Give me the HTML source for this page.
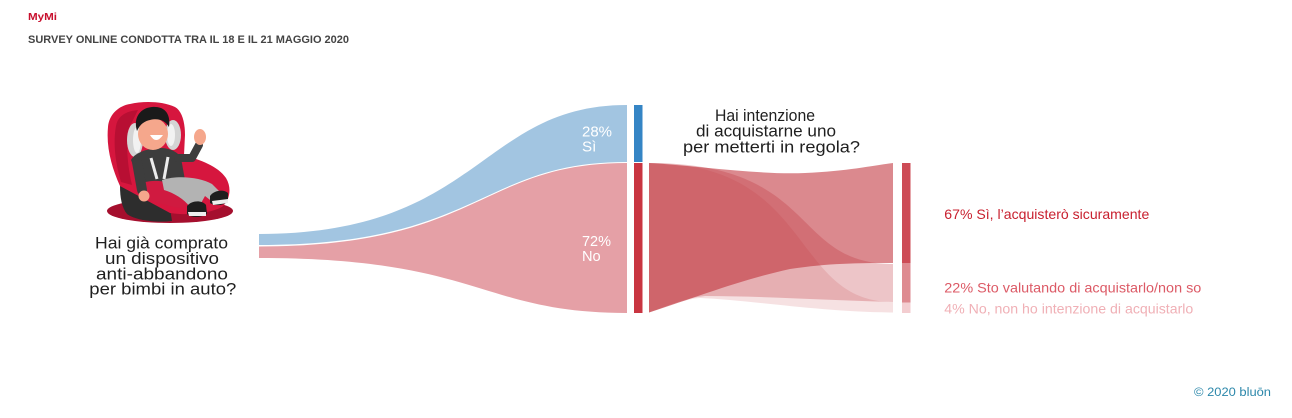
<!DOCTYPE html>
<html><head><meta charset="utf-8"><style>
html,body{margin:0;padding:0;background:#fff;}
svg{display:block;}
text{font-family:"Liberation Sans",sans-serif;}
</style></head><body>
<svg width="1292" height="418" viewBox="0 0 1292 418" xmlns="http://www.w3.org/2000/svg">
<rect width="1292" height="418" fill="#fff"/>
<!-- header -->
<text x="28" y="20" font-size="10" font-weight="bold" fill="#c8102e" textLength="29" lengthAdjust="spacingAndGlyphs">MyMi</text>
<text x="28" y="43" font-size="11" font-weight="bold" fill="#444444" textLength="321" lengthAdjust="spacingAndGlyphs">SURVEY ONLINE CONDOTTA TRA IL 18 E IL 21 MAGGIO 2020</text>

<!-- car seat illustration -->
<g>
<ellipse cx="170" cy="211" rx="63" ry="12" fill="#a50f2e"/>
<path d="M120,186 L168,196 L172,221 C155,223 135,220 127,214 C122,208 120,198 120,186 Z" fill="#2d2d2d"/>
<path d="M120,186 C112,168 106,148 108,127 C109,115 118,106 130,104 C143,101 162,101 175,107 C182,111 185,122 185,135 L184,155 C200,160 218,166 226,178 C232,188 230,200 222,207 C210,213 190,216 170,213 L120,186 Z" fill="#d6163e"/>
<path d="M121,182 C115,162 113,142 116,126 C118,115 127,111 138,110 L128,130 C126,150 128,168 132,185 Z" fill="#b80f33"/>
<ellipse cx="135" cy="140" rx="8" ry="17" fill="#d4d4d4"/>
<ellipse cx="137" cy="140" rx="4" ry="13" fill="#f2f2f2"/>
<ellipse cx="173" cy="135" rx="8" ry="15" fill="#d4d4d4"/>
<ellipse cx="171" cy="135" rx="4" ry="11" fill="#f2f2f2"/>
<path d="M131,160 C135,152 150,148 160,148 C170,148 178,152 181,158 L185,180 C175,186 150,186 140,183 Z" fill="#3d3d3d"/>
<line x1="151" y1="158" x2="157" y2="179" stroke="#ececec" stroke-width="3"/>
<line x1="168" y1="157" x2="164" y2="179" stroke="#ececec" stroke-width="3"/>
<path d="M178,158 L192,158 L199,145" fill="none" stroke="#3d3d3d" stroke-width="8" stroke-linecap="round" stroke-linejoin="round"/>
<ellipse cx="200" cy="137" rx="6" ry="8" fill="#f5a78c"/>
<path d="M138,185 C150,178 170,180 185,190 C190,198 188,206 180,208 C165,206 150,200 140,196 Z" fill="#d01a40"/>
<path d="M162,180 C177,175 200,177 212,184 L224,196 L214,203 L205,196 L200,205 L190,207 C184,199 174,193 164,190 Z" fill="#b3b3b3"/>
<line x1="137" y1="162" x2="142" y2="190" stroke="#3d3d3d" stroke-width="10" stroke-linecap="round"/>
<circle cx="144" cy="196" r="5.5" fill="#f5a78c"/>
<path d="M187,206 C192,200 202,200 206,205 L207,214 C200,218 192,218 187,214 Z" fill="#1e1e1e"/>
<path d="M188,212 L206,212 L206,216 L189,216 Z" fill="#eeeeee"/>
<path d="M210,196 C214,190 224,189 228,193 L228,202 C222,206 214,206 210,203 Z" fill="#1e1e1e"/>
<path d="M212,201 L228,199 L228,203 L213,205 Z" fill="#eeeeee"/>
<ellipse cx="153" cy="134" rx="15" ry="16" fill="#f5a78c"/>
<path d="M137,131 C133,118 140,108 152,107 C164,106 171,113 169,127 C165,120 158,118 150,120 C145,121 140,124 137,131 Z" fill="#1a1a1a"/>
<path d="M150,135 Q156,145 163,135 Z" fill="#ffffff"/>
</g>

<!-- question 1 -->
<g font-size="17" fill="#1f1f1f">
<text x="95" y="248.3" textLength="133" lengthAdjust="spacingAndGlyphs">Hai già comprato</text>
<text x="105" y="263.8" textLength="114" lengthAdjust="spacingAndGlyphs">un dispositivo</text>
<text x="96" y="279.3" textLength="132" lengthAdjust="spacingAndGlyphs">anti-abbandono</text>
<text x="89.3" y="294.3" textLength="147" lengthAdjust="spacingAndGlyphs">per bimbi in auto?</text>
</g>

<!-- first flows -->
<path d="M259,234 C480,234 480,105 627,105 L627,162 C480,162 480,245 259,245 Z" fill="#a2c5e1"/>
<path d="M259,246.5 C480,246.5 480,163 627,163 L627,313 C480,313 480,258 259,258 Z" fill="#e5a0a6"/>
<rect x="634" y="105" width="8.5" height="57" fill="#3585c5"/>
<rect x="634" y="163" width="8.5" height="150" fill="#c93541"/>

<g font-size="15" fill="#ffffff">
<text x="582" y="136.7" textLength="30" lengthAdjust="spacingAndGlyphs">28%</text>
<text x="582" y="151.3" textLength="14.3" lengthAdjust="spacingAndGlyphs">Sì</text>
<text x="582" y="246" textLength="29" lengthAdjust="spacingAndGlyphs">72%</text>
<text x="582" y="261" textLength="18.7" lengthAdjust="spacingAndGlyphs">No</text>
</g>

<!-- question 2 -->
<g font-size="17" fill="#1f1f1f">
<text x="715" y="121" textLength="100" lengthAdjust="spacingAndGlyphs">Hai intenzione</text>
<text x="696" y="136.7" textLength="140" lengthAdjust="spacingAndGlyphs">di acquistarne uno</text>
<text x="683" y="152.3" textLength="177" lengthAdjust="spacingAndGlyphs">per metterti in regola?</text>
</g>

<!-- second flows -->
<path d="M649,163 C700,166 760,175 805,173 C850,171 875,165 893,163 L893,263 C860,263 830,263 790,269 C740,280 700,296 649,312.5 Z" fill="#be2832" fill-opacity="0.55"/>
<path d="M649,163 C820,163 790,264 893,264 L893,302 C820,300 760,296 705,296 C685,298 665,307 649,312.5 Z" fill="#be2832" fill-opacity="0.27"/>
<path d="M649,163 C815,163 790,302 893,302 L893,312.5 C820,312 750,300 700,298 C685,299 665,307 649,312.5 Z" fill="#be2832" fill-opacity="0.14"/>

<rect x="902" y="163" width="8.5" height="100" fill="#cd4b56"/>
<rect x="902" y="263" width="8.5" height="39.5" fill="#de8a90"/>
<rect x="902" y="302.5" width="8.5" height="10.5" fill="#f3cdd0"/>

<text x="944.3" y="219" font-size="14" fill="#c8202f" textLength="205" lengthAdjust="spacingAndGlyphs">67% Sì, l’acquisterò sicuramente</text>
<text x="944.3" y="292.3" font-size="14" fill="#dc5a66" textLength="257" lengthAdjust="spacingAndGlyphs">22% Sto valutando di acquistarlo/non so</text>
<text x="944.3" y="313.3" font-size="14" fill="#f0b0b6" textLength="249" lengthAdjust="spacingAndGlyphs">4% No, non ho intenzione di acquistarlo</text>

<!-- footer -->
<text x="1194" y="396" font-size="11.5" fill="#2b87aa" textLength="77" lengthAdjust="spacingAndGlyphs">© 2020 bluōn</text>
</svg>
</body></html>
